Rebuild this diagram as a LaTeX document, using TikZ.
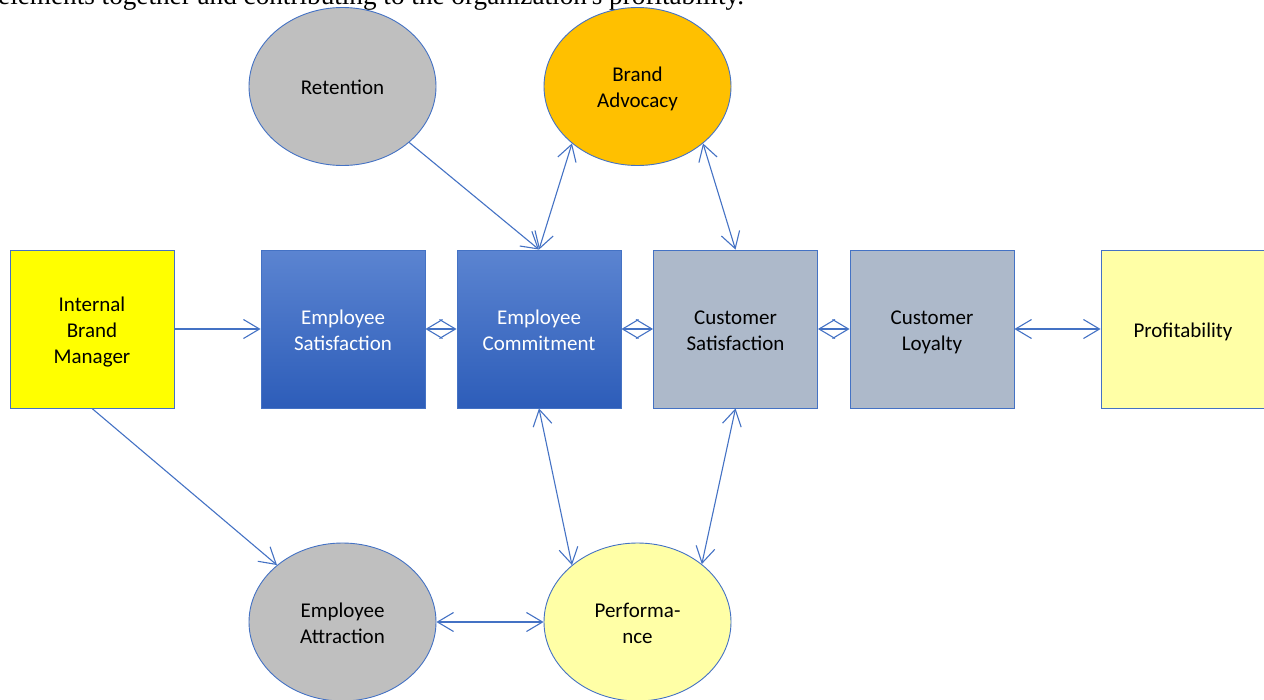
\documentclass[tikz,border=0pt]{standalone}
\usepackage{fontspec}
\setmainfont{Carlito}
\newfontfamily\serifcap{Liberation Serif}
\usetikzlibrary{arrows.meta,shapes.geometric}
\definecolor{lineblue}{HTML}{4472C4}
\definecolor{bluetop}{HTML}{5B84D1}
\definecolor{bluebot}{HTML}{2D5DB9}
\definecolor{custgray}{HTML}{ADB9CA}
\definecolor{ovalgray}{HTML}{BFBFBF}
\definecolor{gold}{HTML}{FFC000}
\definecolor{paleyellow}{HTML}{FFFFA6}
\definecolor{pureyellow}{HTML}{FFFF00}
\newcommand\ls{\rule[-4.8pt]{0pt}{26pt}}
\tikzset{
  lbl/.style={align=center, font=\fontsize{21}{26}\selectfont},
  box/.style={rectangle, draw=lineblue, line width=0.9pt, minimum width=164pt, minimum height=158pt, inner sep=0pt, lbl},
  bluebox/.style={box, top color=bluetop, bottom color=bluebot, text=white},
  oval/.style={ellipse, draw=lineblue, line width=0.9pt, minimum width=187pt, minimum height=158pt, inner sep=0pt, lbl},
  conn/.style={draw=lineblue, line width=1.1pt},
  one/.style={conn, -{Straight Barb[length=16pt,width=19pt]}},
  two/.style={conn, {Straight Barb[length=16pt,width=19pt]}-{Straight Barb[length=16pt,width=19pt]}}
}
\begin{document}
\begin{tikzpicture}[x=1pt,y=-1pt]
\useasboundingbox (0,0) rectangle (1264,699);
\clip (0,0) rectangle (1264,699);
\node[anchor=base west, inner sep=0pt, font=\serifcap\fontsize{27.2}{30}\selectfont] (cap) at (-2,4) {elements together and contributing to the organization's profitability.};
% ovals
\node[oval, fill=ovalgray] (ret) at (342.5,86.5) {\ls Retention};
\node[oval, fill=gold] (adv) at (637.5,86.5) {\ls Brand\\\ls Advocacy};
\node[oval, fill=ovalgray] (att) at (342.5,622) {\ls Employee\\\ls Attraction};
\node[oval, fill=paleyellow] (perf) at (637.5,622) {\ls Performa-\\\ls nce};
% boxes
\node[box, fill=pureyellow] (ibm) at (92,329) {\ls Internal\\\ls Brand\\\ls Manager};
\node[bluebox] (es) at (343,329) {\ls Employee\\\ls Satisfaction};
\node[bluebox] (ec) at (539,329) {\ls Employee\\\ls Commitment};
\node[box, fill=custgray] (cs) at (735.5,329) {\ls Customer\\\ls Satisfaction};
\node[box, fill=custgray] (cl) at (932,329) {\ls Customer\\\ls Loyalty};
\node[box, fill=paleyellow] (prof) at (1183,329) {\ls Profitability};
% connectors
\draw[one] (ibm.east) -- (es.west);
\draw[two] (es.east) -- (ec.west);
\draw[two] (ec.east) -- (cs.west);
\draw[two] (cs.east) -- (cl.west);
\draw[two] (cl.east) -- (prof.west);
\draw[one] (ret.-40.6) -- (ec.north);
\draw[two] (adv.-139) -- (ec.north);
\draw[two] (adv.-41.5) -- (cs.north);
\draw[two] (ec.south) -- (perf.139);
\draw[two] (cs.south) -- (perf.42);
\draw[one] (ibm.south) -- (att.139);
\draw[two] (att.east) -- (perf.west);
\end{tikzpicture}
\end{document}
